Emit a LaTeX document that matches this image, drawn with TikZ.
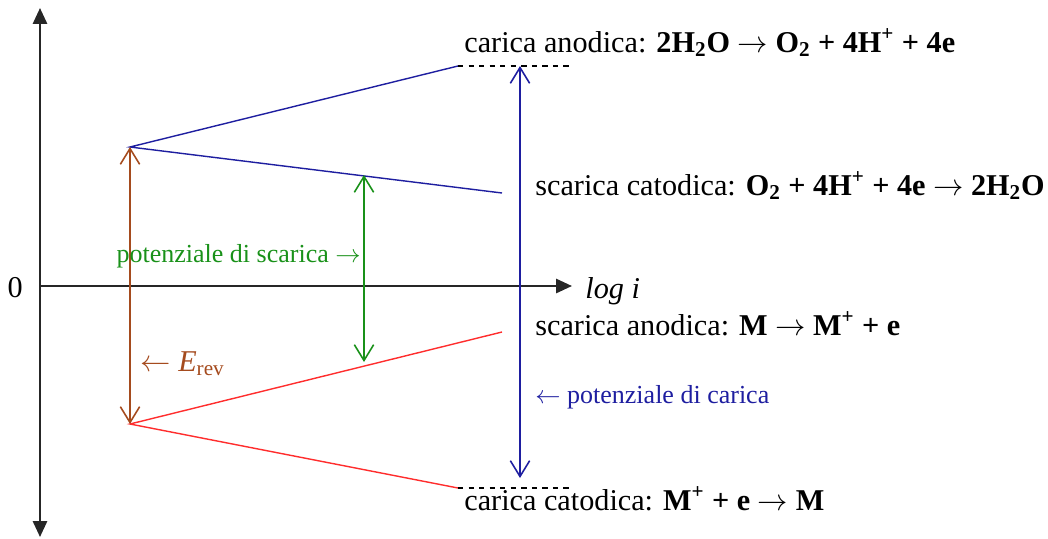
\documentclass[tikz,border=0pt]{standalone}
\usepackage{fontspec}
\setmainfont{Liberation Serif}
\usetikzlibrary{arrows.meta,positioning,calc}
\definecolor{ptnavy}{RGB}{30,30,160}
\definecolor{ptred}{RGB}{255,45,45}
\definecolor{ptgreen}{RGB}{25,145,25}
\definecolor{ptbrown}{RGB}{165,75,30}

\begin{document}
\begin{tikzpicture}[
  x=0.02cm,y=-0.02cm,
  axis/.style={line width=1.3pt,draw=black!85},
  span/.style={{Straight Barb[length=9pt,width=11pt]}-{Straight Barb[length=9pt,width=11pt]},line width=0.9pt},
  curve/.style={line width=0.8pt},
  lbl/.style={font=\fontsize{17.2}{19}\selectfont,inner sep=0pt},
  note/.style={font=\fontsize{14.8}{17}\selectfont,inner sep=0pt}
]
\useasboundingbox (0,0) rectangle (1048,538);

% axes
\coordinate (ytop) at (40,8);
\coordinate (ybot) at (40,537);
\coordinate (orig) at (40,286);
\coordinate (xend) at (572,286);
\draw[axis,{Triangle[length=9pt,width=8pt]}-{Triangle[length=9pt,width=8pt]}] (ybot) -- (ytop);
\draw[axis,-{Triangle[length=9pt,width=8pt]}] (orig) -- (xend);
\node[lbl,anchor=base east] (zero) at (23,297) {0};
\node[lbl,anchor=base west] (logi) at (585,298) {\textit{log i}};

% Tafel lines
\coordinate (oxrev) at (130,147);
\coordinate (oxhi) at (458,66);
\coordinate (oxlo) at (502,193);
\coordinate (mrev) at (130,424);
\coordinate (mhi) at (502,332);
\coordinate (mlo) at (458,488);
\draw[curve,ptnavy] (oxhi) -- (oxrev) -- (oxlo);
\draw[curve,ptred] (mhi) -- (mrev) -- (mlo);
\coordinate (dashA) at (572,66);
\coordinate (dashB) at (572,488);
\draw[dashed,line width=0.6pt] (oxhi) -- (dashA);
\draw[dashed,line width=0.6pt] (mlo) -- (dashB);

% potentials
\draw[span,ptbrown] (oxrev) -- (mrev);
\coordinate (scA) at (364,175);
\coordinate (scB) at (364,362);
\draw[span,ptgreen] (scA) -- (scB);
\coordinate (caA) at (520,66);
\coordinate (caB) at (520,478);
\draw[span,ptnavy] (caA) -- (caB);

% reactions
\node[lbl,anchor=base west] (canod) at (464,52)
  {carica anodica: \textbf{2H\textsubscript{2}O $\rightarrow$ O\textsubscript{2} + 4H\textsuperscript{+} + 4e}};
\node[lbl,anchor=base west] (scatod) at (535,195)
  {scarica catodica: \textbf{O\textsubscript{2} + 4H\textsuperscript{+} + 4e $\rightarrow$ 2H\textsubscript{2}O}};
\node[lbl,anchor=base west] (sanod) at (535,335)
  {scarica anodica: \textbf{M $\rightarrow$ M\textsuperscript{+} + e}};
\node[lbl,anchor=base west] (ccatod) at (464,510)
  {carica catodica: \textbf{M\textsuperscript{+} + e $\rightarrow$ M}};

% potential labels
\node[note,anchor=base east,text=ptgreen] (lscar) at (361,262) {potenziale di scarica $\rightarrow$};
\node[lbl,anchor=base west,text=ptbrown] (lrev) at (140,371)
  {$\leftarrow$ \textit{E}\textsubscript{rev}};
\node[note,anchor=base west,text=ptnavy] (lcar) at (535,403) {$\leftarrow$ potenziale di carica};
\end{tikzpicture}
\end{document}
